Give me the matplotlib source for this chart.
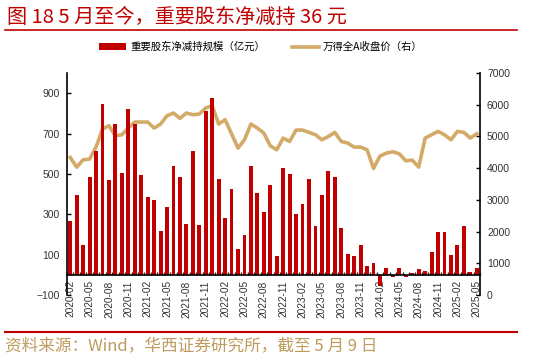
import matplotlib
matplotlib.use('Agg')
import matplotlib.pyplot as plt
import numpy as np
import pandas as pd
from matplotlib.patches import Patch
from matplotlib.lines import Line2D

plt.rcParams['font.family'] = ['Noto Sans CJK SC', 'DejaVu Sans']

months = [p.strftime('%Y-%m') for p in pd.period_range('2020-02', '2025-05', freq='M')]

reduction = [265, 397, 150, 486, 612, 846, 471, 748, 506, 820, 748,
             493, 387, 370, 219, 335, 539, 483, 254, 612, 248, 813, 876,
             473, 284, 423, 128, 196, 539, 407, 311, 447, 92, 531, 500,
             301, 350, 476, 244, 397, 516, 483, 231, 103, 93, 146, 44,
             59, -55, 32, -13, 32, -12, 7, 29, 17, 115, 211, 214,
             97, 150, 243, 15, 36]

wind_a = [4336, 4033, 4263, 4285, 4664, 5233, 5337, 5021, 5053, 5264, 5454,
          5454, 5454, 5264, 5390, 5653, 5738, 5568, 5738, 5684, 5706, 5896, 5969,
          5390, 5527, 5084, 4632, 4895, 5390, 5264, 5106, 4705, 4579, 4948, 4842,
          5201, 5201, 5127, 5053, 4895, 4998, 5127, 4842, 4790, 4664, 4664, 4579,
          3990, 4380, 4475, 4516, 4453, 4232, 4253, 4033, 4948, 5053, 5158, 5053,
          4895, 5158, 5127, 4948, 5084]

left_ticks = [-100, 100, 300, 500, 700, 900]
right_ticks = [0, 1000, 2000, 3000, 4000, 5000, 6000, 7000]

title = '图 18 5 月至今，重要股东净减持 36 元'
bar_label = '重要股东净减持规模（亿元）'
line_label = '万得全A收盘价（右）'
source = '资料来源：Wind，华西证券研究所，截至 5 月 9 日'

RED = '#C00000'
GOLD = '#D4AA68'
TAN = '#BF9B5E'

W, H = 545, 361
fig = plt.figure(figsize=(W / 100, H / 100), dpi=100)
ax = fig.add_axes([67 / W, 1 - 295 / H, (480 - 67) / W, (295 - 73) / H])
ax2 = ax.twinx()

x = np.arange(len(months))
ax.bar(x, reduction, width=0.6, color=RED, zorder=3)
ax.set_ylim(-100, 1000)
ax.set_xlim(-0.5, len(months) - 0.5)
ax.set_yticks(left_ticks)

ax2.plot(x, wind_a, color=GOLD, lw=2.6, solid_joinstyle='round', zorder=4)
ax2.set_ylim(0, 7000)
ax2.set_yticks(right_ticks)

ax.set_xticks(x[::3])
ax.set_xticklabels(months[::3])
ax.set_xticks(np.arange(-0.5, len(months), 1), minor=True)
ax.tick_params(axis='x', which='major', length=0, pad=4, labelrotation=90,
               labelsize=7.3, labelfontfamily='Liberation Sans', labelcolor='#333333')
ax.tick_params(axis='x', which='minor', direction='in', length=2.5, width=1, color='#222222')
ax.tick_params(axis='y', direction='in', length=3, width=1, pad=5,
               labelsize=7.5, labelfontfamily='Liberation Sans', labelcolor='#333333')
ax2.tick_params(axis='y', direction='in', length=3, width=1, pad=5,
                labelsize=7.5, labelfontfamily='Liberation Sans', labelcolor='#333333')

for a in (ax, ax2):
    a.spines['top'].set_visible(False)
ax.spines['right'].set_visible(False)
ax2.spines['left'].set_visible(False)
ax2.spines['bottom'].set_visible(False)
ax.spines['bottom'].set_position(('data', 0))
ax.spines['bottom'].set_zorder(5)
ax.spines['left'].set_linewidth(1.2)
ax2.spines['right'].set_linewidth(1.2)
ax.spines['bottom'].set_linewidth(1.2)
ax.set_zorder(ax2.get_zorder() + 1)
ax.patch.set_visible(False)

handles = [Patch(facecolor=RED, edgecolor='none'), Line2D([0], [0], color=GOLD, lw=2.6)]
fig.legend(handles, [bar_label, line_label], loc='center', ncol=2,
           bbox_to_anchor=(261 / W, 1 - 47 / H), frameon=False,
           prop=dict(family=['Noto Sans CJK SC', 'DejaVu Sans'], size=7.5),
           handlelength=2.6, handleheight=0.7, handletextpad=0.4, columnspacing=2.5)

fig.text(7 / W, 1 - 17 / H, title, color=RED, fontsize=14.5, va='center', ha='left')
fig.add_artist(Line2D([5 / W, 517 / W], [1 - 29.5 / H, 1 - 29.5 / H], color=RED, lw=1.2))
fig.add_artist(Line2D([5 / W, 517 / W], [1 - 331.5 / H, 1 - 331.5 / H], color=RED, lw=1.5))
fig.text(5 / W, 1 - 346 / H, source, color=TAN, fontsize=12, va='center', ha='left')

fig.savefig('out.png', dpi=100)
